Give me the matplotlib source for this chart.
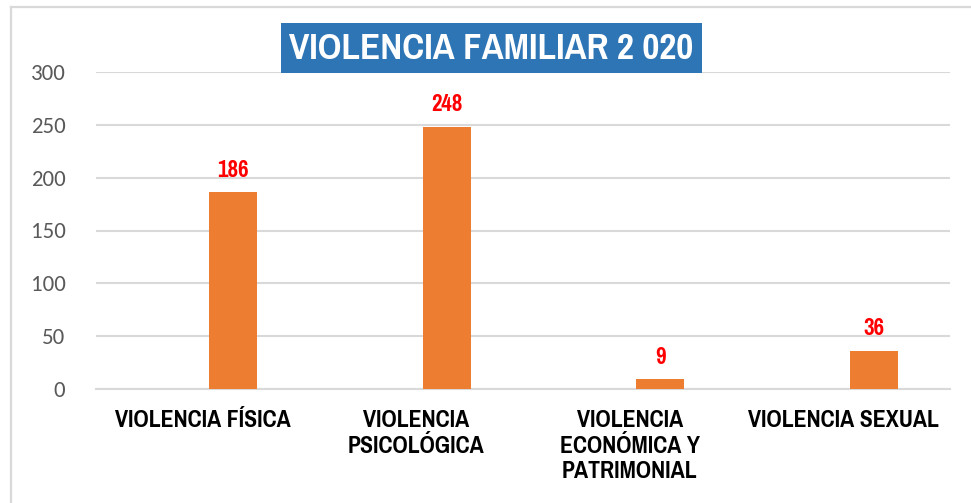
import matplotlib
matplotlib.use("Agg")
import matplotlib.pyplot as plt
from matplotlib.patches import Rectangle
from matplotlib.lines import Line2D
import numpy as np
import logging
logging.getLogger("matplotlib.font_manager").setLevel(logging.ERROR)

categories = ["VIOLENCIA FÍSICA", "VIOLENCIA\nPSICOLÓGICA", "VIOLENCIA\nECONÓMICA Y\nPATRIMONIAL", "VIOLENCIA SEXUAL"]
values = [186, 248, 9, 36]
yticks = [0, 50, 100, 150, 200, 250, 300]
title = "VIOLENCIA FAMILIAR 2 020"

NARROW = ["Arial Narrow", "Liberation Sans Narrow", "Pragati Narrow", "PT Sans Narrow", "IBM Plex Sans Condensed", "Liberation Sans", "DejaVu Sans"]
REG = ["Carlito", "Calibri", "Liberation Sans", "DejaVu Sans"]

W, H = 971, 503
fig = plt.figure(figsize=(W / 100, H / 100), dpi=100)
fig.patch.set_facecolor("white")

# outer frame (left and top lines)
fig.add_artist(Line2D([11 / W, 11 / W], [0, 1 - 7 / H], transform=fig.transFigure, color="#D9D9D9", lw=1.6))
fig.add_artist(Line2D([11 / W, 1], [1 - 7 / H, 1 - 7 / H], transform=fig.transFigure, color="#D9D9D9", lw=1.6))

left, right = 96 / W, 950 / W
bottom, top = 1 - 389 / H, 1 - 72 / H
ax = fig.add_axes([left, bottom, right - left, top - bottom])

x = np.arange(len(categories))
offset = 0.143
width = 0.225
bars = ax.bar(x + offset, values, width=width, color="#ED7D31", zorder=3)

ax.set_xlim(-0.5, len(categories) - 0.5)
ax.set_ylim(0, 300)
ax.set_yticks(yticks)
ax.set_yticklabels([str(t) for t in yticks], fontfamily=REG, fontsize=16.5, color="#595959")
ax.tick_params(axis="y", length=0, pad=22)
ax.tick_params(axis="x", length=0, pad=15)
ax.set_xticks(x)
ax.set_xticklabels(categories, fontfamily=NARROW, fontsize=18.7, fontweight="bold", color="black", linespacing=1.23, va="top")

ax.grid(axis="y", color="#D9D9D9", lw=1.5, zorder=0)
for s in ["top", "right", "left"]:
    ax.spines[s].set_visible(False)
ax.spines["bottom"].set_color("#D9D9D9")
ax.spines["bottom"].set_linewidth(1.5)

for xi, v in zip(x, values):
    ax.annotate(str(v), (xi + offset, v), xytext=(0, 8.5), textcoords="offset points",
                ha="center", va="bottom", color="#FF0000", fontsize=18,
                fontweight="bold", fontfamily=NARROW)

# title box
fig.add_artist(Rectangle((281 / W, 1 - 73 / H), (702 - 281) / W, (73 - 23) / H,
                         transform=fig.transFigure, facecolor="#2E75B6", edgecolor="none", zorder=5))
fig.text((281 + 702) / 2 / W, 1 - 48.5 / H, title, ha="center", va="center", color="white",
         fontsize=29, fontweight="bold", fontfamily=NARROW, zorder=6)

fig.savefig("out.png", dpi=100, facecolor="white")
